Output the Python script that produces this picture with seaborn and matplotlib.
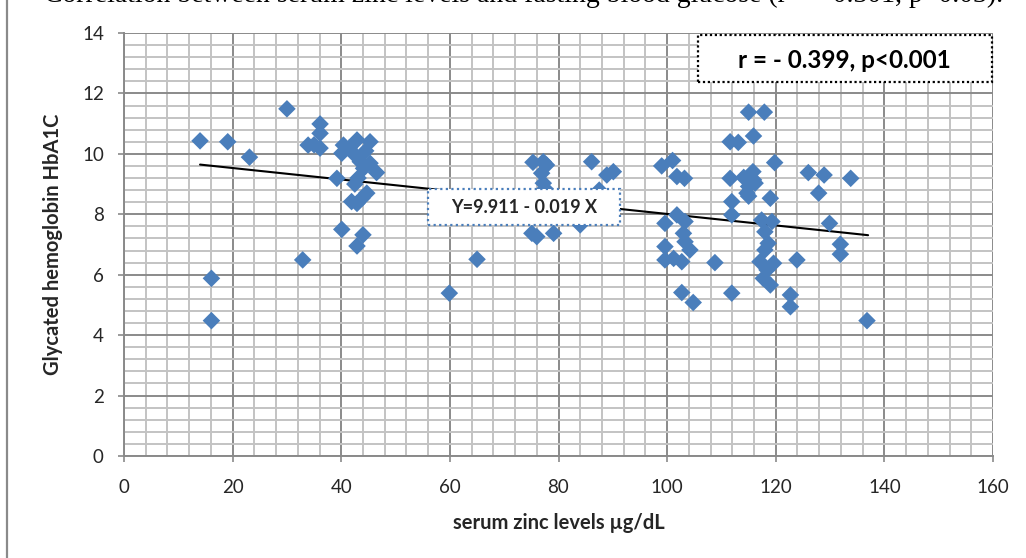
import matplotlib
matplotlib.use("Agg")
import matplotlib.pyplot as plt
from matplotlib.patches import Rectangle
from matplotlib.ticker import MultipleLocator
import numpy as np
import pandas as pd
import seaborn as sns

# ---------------- data ----------------
zinc = [
    14.0, 19.1, 23.1, 30.0, 36.1, 36.1, 33.9, 36.1, 35.0, 40.4, 42.9, 45.3,
    40.1, 42.2, 43.5, 45.3, 44.1, 46.5, 39.2, 43.1, 44.7, 43.8, 41.9, 42.9,
    40.1, 44.0, 42.9, 32.9, 16.1, 16.1, 41.5, 44.5, 42.5,
    59.9, 65.0, 75.3, 77.2, 77.8, 76.9, 77.2, 77.5, 86.1, 88.9, 90.1, 87.5,
    75.1, 76.0, 79.1, 84.0,
    115.0, 117.9, 115.9, 111.6, 113.1, 119.8, 99.0, 101.0, 101.8, 103.2, 111.6,
    114.1, 115.8, 115.9, 115.0, 115.0, 119.0, 111.9, 111.9, 126.0, 128.9, 133.8,
    127.9, 129.9, 131.9, 131.9, 123.9, 108.8, 102.7, 104.8, 111.9, 122.7, 122.7,
    136.8,
    101.8, 99.6, 103.3, 103.0, 103.3, 99.6, 104.2, 99.6, 102.7, 101.2,
    117.4, 119.3, 118.0, 118.6, 118.0, 117.1, 119.6, 118.4, 117.7, 119.0,
    116.2, 114.7,
]
hba1c = [
    10.43, 10.40, 9.89, 11.49, 10.99, 10.68, 10.29, 10.19, 10.30, 10.29, 10.46, 10.40,
    10.02, 10.02, 9.74, 9.69, 9.52, 9.38, 9.19, 9.20, 8.70, 8.53, 8.42, 8.36,
    7.50, 7.32, 6.95, 6.49, 5.88, 4.48, 10.20, 10.10, 9.00,
    5.39, 6.51, 9.72, 9.74, 9.63, 9.36, 9.03, 8.85, 9.74, 9.30, 9.41, 8.80,
    7.37, 7.26, 7.37, 7.65,
    11.38, 11.38, 10.59, 10.40, 10.38, 9.71, 9.60, 9.78, 9.25, 9.19, 9.19,
    9.22, 9.41, 9.14, 8.92, 8.60, 8.53, 8.42, 7.98, 9.38, 9.30, 9.19,
    8.70, 7.70, 7.01, 6.68, 6.49, 6.40, 5.41, 5.08, 5.39, 5.33, 4.94,
    4.48,
    7.98, 7.70, 7.76, 7.37, 7.09, 6.93, 6.82, 6.49, 6.43, 6.54,
    7.81, 7.76, 7.42, 7.04, 6.82, 6.43, 6.38, 6.16, 5.88, 5.66,
    9.03, 8.70,
]

fit_intercept = 9.911
fit_slope = -0.019
fit_x_range = [14.0, 137.0]

x_ticks = [0, 20, 40, 60, 80, 100, 120, 140, 160]
y_ticks = [0, 2, 4, 6, 8, 10, 12, 14]

title_text = "Correlation between serum zinc levels and fasting blood glucose (r = - 0.301, p=0.03)."
x_label = "serum zinc levels \u00b5g/dL"
y_label = "Glycated hemoglobin HbA1C"
stat_text = "r = - 0.399, p<0.001"
eq_text = "Y=9.911 - 0.019 X"

# ---------------- styling ----------------
sns.set_theme(style="white")
plt.rcParams["font.family"] = ["Lato", "DejaVu Sans"]

W, H = 1026, 558
fig = plt.figure(figsize=(W / 100, H / 100), dpi=100)
fig.patch.set_facecolor("white")

ax_l, ax_r, ax_t, ax_b = 124, 993, 33, 456
ax = fig.add_axes([ax_l / W, 1 - ax_b / H, (ax_r - ax_l) / W, (ax_b - ax_t) / H])
ax.set_facecolor("white")

df = pd.DataFrame({"zinc": zinc, "hba1c": hba1c})

ax.set_xlim(0, 160)
ax.set_ylim(0, 14)
ax.xaxis.set_major_locator(MultipleLocator(20))
ax.xaxis.set_minor_locator(MultipleLocator(4))
ax.yaxis.set_major_locator(MultipleLocator(2))
ax.yaxis.set_minor_locator(MultipleLocator(0.4))
ax.set_xticks(x_ticks)
ax.set_yticks(y_ticks)
ax.set_xticklabels([str(t) for t in x_ticks])
ax.set_yticklabels([str(t) for t in y_ticks])

ax.grid(which="minor", color="#c3c3c3", linewidth=1.4, zorder=0)
ax.grid(which="major", color="#8a8a8a", linewidth=1.4, zorder=0)
ax.set_axisbelow(True)

for side in ["top", "right"]:
    ax.spines[side].set_visible(False)
for side in ["left", "bottom"]:
    ax.spines[side].set_color("#8a8a8a")
    ax.spines[side].set_linewidth(1.4)

ax.tick_params(axis="both", which="major", direction="out", length=4.5, width=1.2,
               color="#8a8a8a", labelsize=13.5, labelcolor="#262626")
ax.tick_params(axis="y", which="major", pad=10, left=True)
ax.tick_params(axis="x", which="major", pad=12, bottom=True)
ax.tick_params(which="minor", length=0)

# regression line
xs = np.array(fit_x_range)
sns.lineplot(x=xs, y=fit_intercept + fit_slope * xs, ax=ax, color="black",
             linewidth=1.5, zorder=2)

# scatter
sns.scatterplot(data=df, x="zinc", y="hba1c", ax=ax, marker="D", s=80,
                color="#4a7ebb", edgecolor="none", linewidth=0, zorder=3)

ax.set_xlabel(x_label, fontsize=14.5, fontweight="bold", color="#262626", labelpad=12)
ax.set_ylabel(y_label, fontsize=14.5, fontweight="bold", color="#262626", labelpad=14)

# equation box
ax.add_patch(Rectangle((0.3498, 0.546), 0.221, 0.085, transform=ax.transAxes,
                       facecolor="white", edgecolor="#4a7ebb", linestyle=(0, (1, 1.5)),
                       linewidth=1.6, zorder=5))
ax.text(0.4609, 0.5885, eq_text, transform=ax.transAxes, ha="center", va="center",
        fontsize=13, fontweight="bold", color="#262626", zorder=6)

# statistics box
ax.add_patch(Rectangle((0.6605, 0.884), 0.3383, 0.111, transform=ax.transAxes,
                       facecolor="white", edgecolor="black", linestyle=(0, (1, 1.2)),
                       linewidth=1.6, zorder=5, clip_on=False))
ax.text(0.8285, 0.936, stat_text, transform=ax.transAxes, ha="center", va="center",
        fontsize=17.5, fontweight="bold", color="black", zorder=6)

# chart-area frame (cut off at right and bottom in reference)
fig.patches.append(Rectangle((7 / W, -0.2), 1.2, 1.2 + (1 - 9 / H), transform=fig.transFigure,
                             fill=False, edgecolor="#8a8a8a", linewidth=1.6))

# caption of the source figure, cut off at the top edge as in the reference
fig.text(1003 / W, 1 - 2 / H, title_text, ha="right", va="baseline",
         fontsize=20, family=["Liberation Serif", "DejaVu Serif"], color="black")

fig.savefig("out.png", dpi=100, facecolor="white")
